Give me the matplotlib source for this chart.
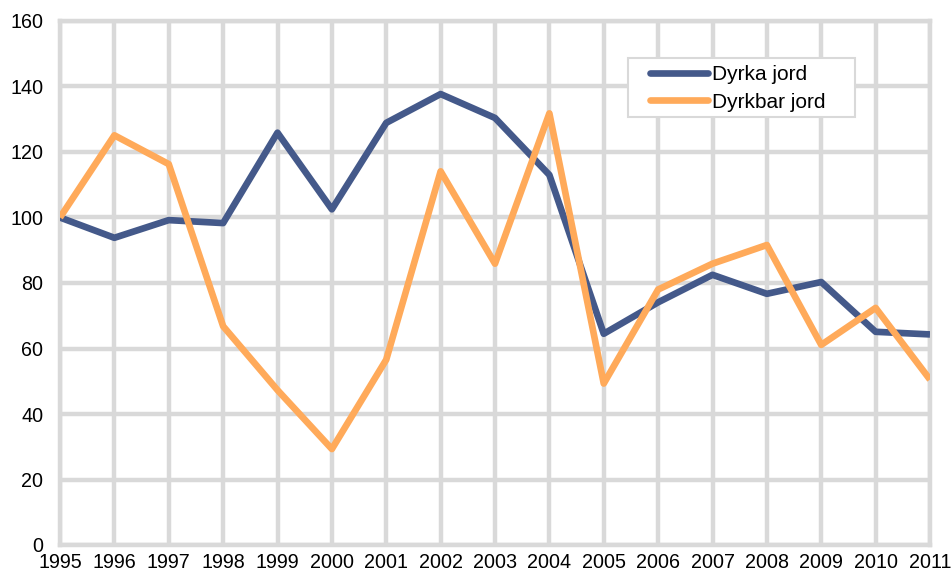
import matplotlib
matplotlib.use("Agg")
import matplotlib.pyplot as plt
from matplotlib.patches import Rectangle

years = list(range(1995, 2012))
dyrka = [100, 93.8, 99.2, 98.3, 125.9, 102.5, 128.9, 137.7, 130.4, 113.0, 64.5, 74.1, 82.5, 76.7, 80.3, 65.1, 64.3]
dyrkbar = [100, 125.1, 116.3, 66.8, 47.3, 29.3, 56.6, 114.1, 85.9, 131.8, 49.3, 78.0, 85.9, 91.6, 61.1, 72.4, 50.5]
yticks = list(range(0, 161, 20))

plt.rcParams['font.family'] = ['Liberation Sans', 'DejaVu Sans']
fig = plt.figure(figsize=(9.53, 5.78), dpi=100)
ax = fig.add_axes([60/953, 1-545/578, 870/953, 524/578])

grid_c = '#d9d9d9'
ax.plot(years, dyrka, color='#44598a', lw=4.8, label='Dyrka jord', solid_capstyle='butt', zorder=3)
ax.plot(years, dyrkbar, color='#ffaa5a', lw=4.8, label='Dyrkbar jord', solid_capstyle='butt', zorder=3)

ax.set_xlim(1995, 2011)
ax.set_ylim(0, 160)
ax.set_xticks(years)
ax.set_yticks(yticks)
ax.grid(True, color=grid_c, lw=3.2, zorder=0)
ax.set_axisbelow(True)
for s in ax.spines.values():
    s.set_color(grid_c)
    s.set_linewidth(3.2)
ax.tick_params(length=0, labelsize=14.2)
ax.tick_params(axis='y', pad=12)
ax.tick_params(axis='x', pad=6)

# legend frame
ax.add_patch(Rectangle((0.653, 0.817), 0.261, 0.113, transform=ax.transAxes,
                       facecolor='white', edgecolor=grid_c, lw=1.5, zorder=4))
leg = ax.legend(loc='upper left', bbox_to_anchor=(0.678, 0.916), fontsize=15,
                frameon=False, handlelength=2.8, handletextpad=0.2,
                borderpad=0, labelspacing=0.42, borderaxespad=0)
leg.set_zorder(5)
for h in leg.get_lines():
    h.set_solid_capstyle('round')

fig.savefig('out.png', dpi=100)
